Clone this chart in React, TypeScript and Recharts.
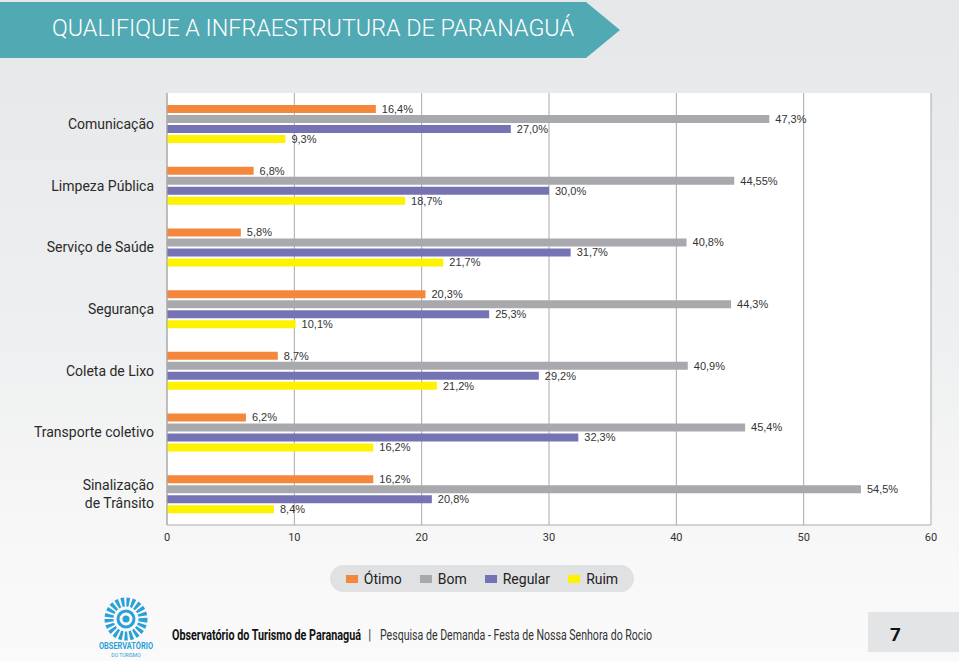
import React from 'react';
import { BarChart, Bar, XAxis, YAxis, CartesianGrid, LabelList } from 'recharts';

const CATEGORIES = [
  'Comunicação',
  'Limpeza Pública',
  'Serviço de Saúde',
  'Segurança',
  'Coleta de Lixo',
  'Transporte coletivo',
  'Sinalização\nde Trânsito',
];
const OTIMO = [16.4, 6.8, 5.8, 20.3, 8.7, 6.2, 16.2];
const BOM = [47.3, 44.55, 40.8, 44.3, 40.9, 45.4, 54.5];
const REGULAR = [27.0, 30.0, 31.7, 25.3, 29.2, 32.3, 20.8];
const RUIM = [9.3, 18.7, 21.7, 10.1, 21.2, 16.2, 8.4];
const X_TICKS = [0, 10, 20, 30, 40, 50, 60];

const SERIES = [
  { key: 'otimo', name: 'Ótimo', color: '#f4873b' },
  { key: 'bom', name: 'Bom', color: '#a8a9ac' },
  { key: 'regular', name: 'Regular', color: '#7673b5' },
  { key: 'ruim', name: 'Ruim', color: '#fff200' },
];

const TITLE = 'QUALIFIQUE A INFRAESTRUTURA DE PARANAGUÁ';
const FOOT_BOLD = 'Observatório do Turismo de Paranaguá';
const FOOT_REG = 'Pesquisa de Demanda - Festa de Nossa Senhora do Rocio';
const PAGE = '7';

const data = CATEGORIES.map((name, i) => ({
  name,
  otimo: OTIMO[i],
  bom: BOM[i],
  regular: REGULAR[i],
  ruim: RUIM[i],
}));

const fmt = (v: any) => {
  const n = Number(v);
  const one = Math.abs(n * 10 - Math.round(n * 10)) < 1e-6;
  return (one ? n.toFixed(1) : String(n)).replace('.', ',') + '%';
};

const CatTick = (props: any) => {
  const { y, payload } = props;
  const lines = String(payload.value).split('\n');
  const lh = 18;
  const start = -((lines.length - 1) * lh) / 2;
  return (
    <g>
      {lines.map((l, i) => (
        <text
          key={i}
          x={154}
          y={y + start + i * lh}
          dy={5}
          textAnchor="end"
          fontSize={14}
          fontFamily="Roboto, 'Open Sans', sans-serif"
          fill="#2a2a2a"
        >
          {l}
        </text>
      ))}
    </g>
  );
};

// horizontally condensed text (keeps real text, scaled with a transform)
const Condensed = ({ x, y, sx, width, children, ...rest }: any) => (
  <g transform={`translate(${x},${y}) scale(${sx},1)`}>
    <text x={0} y={0} textLength={width / sx} lengthAdjust="spacingAndGlyphs" {...rest}>
      {children}
    </text>
  </g>
);

export default function App() {
  return (
    <div
      style={{
        position: 'absolute',
        left: 0,
        top: 0,
        width: 959,
        height: 661,
        overflow: 'hidden',
        background: 'linear-gradient(180deg, #e6e7e8 0%, #eeeff0 50%, #f8f8f8 85%, #fafafa 100%)',
      }}
    >
      <svg width={959} height={661} style={{ position: 'absolute', left: 0, top: 0 }}>
        <polygon points="0,2 586,2 620,30 586,58 0,58" fill="#51a9b4" />
        <Condensed
          x={52}
          y={36}
          sx={0.8}
          width={522}
          fontSize={24}
          fill="#ffffff"
          fontFamily="Roboto, sans-serif"
          fontWeight={300}
        >
          {TITLE}
        </Condensed>
        {/* logo */}
        <g>
          <circle cx={126} cy={619} r={17} fill="none" stroke="#2aa0d8" strokeWidth={9} strokeDasharray="3 2" />
          <circle cx={126} cy={619} r={8} fill="none" stroke="#2aa0d8" strokeWidth={3} />
          <circle cx={126} cy={619} r={3.5} fill="#2aa0d8" />
          <Condensed
            x={99}
            y={649}
            sx={0.8}
            width={54}
            fontSize={9}
            fontWeight="bold"
            fill="#2aa0d8"
            fontFamily="Roboto, sans-serif"
          >
            OBSERVATÓRIO
          </Condensed>
          <text x={126} y={657} fontSize={5} textAnchor="middle" fill="#2aa0d8" fontFamily="Roboto, sans-serif">
            DO TURISMO
          </text>
        </g>
        <Condensed
          x={172}
          y={640}
          sx={0.66}
          width={189}
          fontSize={15}
          fontWeight="bold"
          fill="#111"
          fontFamily="Roboto, sans-serif"
        >
          {FOOT_BOLD}
        </Condensed>
        <text x={368} y={640} fontSize={14} fill="#555" fontFamily="Roboto, sans-serif">
          |
        </text>
        <Condensed x={380} y={640} sx={0.7} width={272} fontSize={15} fill="#333" fontFamily="Roboto, sans-serif">
          {FOOT_REG}
        </Condensed>
        <rect x={868} y={612} width={91} height={40} fill="#e3e4e5" />
        <text x={890} y={641} fontSize={19} fontWeight="bold" fill="#111" fontFamily="Roboto, sans-serif">
          {PAGE}
        </text>
      </svg>

      <div style={{ position: 'absolute', left: 0, top: 0 }}>
        <BarChart
          width={959}
          height={560}
          data={data}
          layout="vertical"
          margin={{ top: 93, right: 28, bottom: 5, left: 0 }}
          barCategoryGap={11}
          barGap={2}
          barSize={8}
        >
          <CartesianGrid horizontal={false} vertical={true} stroke="#a9a9a9" fill="#ffffff" />
          <XAxis
            type="number"
            domain={[0, 60]}
            ticks={X_TICKS}
            tickLine={false}
            axisLine={{ stroke: '#a9a9a9' }}
            height={30}
            interval={0}
            tick={{ fontSize: 11, fill: '#333', fontFamily: "'Liberation Sans Narrow', Roboto, sans-serif" }}
          />
          <YAxis
            type="category"
            dataKey="name"
            width={167}
            tickLine={false}
            axisLine={{ stroke: '#a9a9a9' }}
            tick={<CatTick />}
            interval={0}
          />
          {SERIES.map((s) => (
            <Bar key={s.key} dataKey={s.key} name={s.name} fill={s.color} isAnimationActive={false}>
              <LabelList
                dataKey={s.key}
                position="right"
                offset={6}
                formatter={fmt}
                fontSize={11}
                fill="#333"
                fontFamily="'Liberation Sans', Arial, sans-serif"
              />
            </Bar>
          ))}
        </BarChart>
      </div>

      <div
        style={{
          position: 'absolute',
          left: 330,
          top: 565,
          width: 304,
          height: 27,
          borderRadius: 14,
          background: '#e0e1e3',
          display: 'flex',
          alignItems: 'center',
          justifyContent: 'center',
          gap: 18,
          fontFamily: "Roboto, 'Open Sans', sans-serif",
          fontSize: 14,
          color: '#222',
        }}
      >
        {SERIES.map((s) => (
          <div key={s.key} style={{ display: 'flex', alignItems: 'center', gap: 6 }}>
            <span style={{ display: 'inline-block', width: 12, height: 8, background: s.color }} />
            <span>{s.name}</span>
          </div>
        ))}
      </div>
    </div>
  );
}
